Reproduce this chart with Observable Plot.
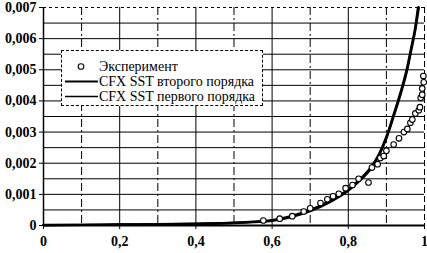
<!DOCTYPE html>
<html><head><meta charset="utf-8">
<script src="https://cdn.jsdelivr.net/npm/d3@7"></script>
<script src="https://cdn.jsdelivr.net/npm/@observablehq/plot@0.6"></script>
<style>
body{margin:0;background:#fff}
#wrap{position:relative;width:427px;height:253px}
svg{display:block}
#legend{position:absolute;left:61px;top:50px;width:202px;height:56px;background:#fff;border:1px dashed #000;font-family:"Liberation Serif","Times New Roman",serif;font-size:14px;color:#000;box-sizing:border-box}
.row{position:absolute;left:0;height:15px;line-height:15px;white-space:nowrap}
.row svg{position:absolute;left:0;top:0}
.row span{position:absolute;left:37px;top:0}
</style>
</head><body><div id="wrap"></div>
<script>
const expX = [0.577,0.620,0.653,0.683,0.700,0.727,0.745,0.760,0.775,0.793,0.811,0.827,0.853,0.862,0.877,0.884,0.893,0.900,0.919,0.933,0.946,0.955,0.963,0.968,0.976,0.985,0.988,0.990,0.994,0.994,0.998,0.997];
const expY = [0.00016,0.00022,0.00030,0.00045,0.00055,0.00072,0.00084,0.00094,0.00102,0.00120,0.00130,0.00150,0.00138,0.00186,0.00197,0.00217,0.00223,0.00240,0.00260,0.00280,0.00300,0.00310,0.00330,0.00340,0.00360,0.00370,0.00380,0.00410,0.00420,0.00440,0.00460,0.00480];

const cfx2X = [0,0.1,0.2,0.3,0.4,0.5,0.55,0.6,0.65,0.7,0.75,0.8,0.83,0.86,0.88,0.9,0.92,0.94,0.955,0.965,0.975,0.983];
const cfx2Y = [0.00002,0.00002,0.00003,0.00004,0.00006,0.00009,0.00012,0.00017,0.00030,0.00050,0.00078,0.00116,0.00148,0.00188,0.00228,0.00285,0.00360,0.00440,0.00510,0.00570,0.00630,0.00700];
const cfx1X = [0,0.1,0.2,0.3,0.4,0.5,0.55,0.6,0.65,0.7,0.75,0.8,0.83,0.86,0.88,0.9,0.92,0.94,0.955,0.965,0.975,0.985];
const cfx1Y = [0.00001,0.00002,0.00003,0.00004,0.00005,0.00008,0.00011,0.00015,0.00027,0.00046,0.00074,0.00112,0.00144,0.00184,0.00224,0.00280,0.00354,0.00433,0.00502,0.00562,0.00622,0.00700];

const xTicks = [0,0.2,0.4,0.6,0.8,1];
const yTicks = [0,0.001,0.002,0.003,0.004,0.005,0.006,0.007];
const xGrid = [0.1,0.2,0.3,0.4,0.5,0.6,0.7,0.8,0.9];
const yGrid = [0.0005,0.001,0.0015,0.002,0.0025,0.003,0.0035,0.004,0.0045,0.005,0.0055,0.006,0.0065];
const legendLabels = ["Эксперимент","CFX SST второго порядка","CFX SST первого порядка"];

const exp = expX.map((x,i)=>({x, y: expY[i]}));
const c2 = cfx2X.map((x,i)=>({x, y: cfx2Y[i]}));
const c1 = cfx1X.map((x,i)=>({x, y: cfx1Y[i]}));
const font = '"Liberation Serif","Times New Roman",serif';

const chart = Plot.plot({
  width: 427, height: 253,
  marginLeft: 43, marginRight: 3, marginTop: 7, marginBottom: 28,
  x: {domain: [0,1], label: null},
  y: {domain: [0,0.007], label: null},
  style: {fontFamily: font, fontSize: "14px", color: "#000", background: "#fff"},
  marks: [
    Plot.ruleY(yGrid, {stroke: "#000", strokeWidth: 1}),
    Plot.ruleX(xGrid.filter((d,i)=>i%2===1), {stroke: "#000", strokeWidth: 1}),
    Plot.ruleX(xGrid.filter((d,i)=>i%2===0), {stroke: "#000", strokeWidth: 1, strokeDasharray: "8,3,2,3"}),
    Plot.ruleY([0.007], {stroke: "#000", strokeWidth: 1, strokeDasharray: "3,3"}),
    Plot.ruleX([1], {stroke: "#000", strokeWidth: 1, strokeDasharray: "6,3"}),
    Plot.ruleX([0], {stroke: "#000", strokeWidth: 1.5}),
    Plot.ruleY([0], {stroke: "#000", strokeWidth: 2}),
    Plot.axisY(yTicks, {label: null, tickFormat: d => d === 0 ? "0" : d3.format(".3f")(d).replace(".", ","), tickSize: 4, tickPadding: 3, fontWeight: "bold", fontSize: 14}),
    Plot.axisX(xTicks, {label: null, tickFormat: d => d === 0 ? "0" : d === 1 ? "1" : d3.format(".1f")(d).replace(".", ","), tickSize: 4, tickPadding: 7, fontWeight: "bold", fontSize: 14}),
    Plot.line(c1, {x: "x", y: "y", stroke: "#000", strokeWidth: 2.4, curve: "monotone-x"}),
    Plot.line(c2, {x: "x", y: "y", stroke: "#000", strokeWidth: 2.4, curve: "monotone-x"}),
    Plot.dot(exp, {x: "x", y: "y", r: 2.8, stroke: "#000", strokeWidth: 1.1, fill: "#fff"})
  ]
});
const wrap = document.getElementById("wrap");
wrap.appendChild(chart);

const legend = document.createElement("div");
legend.id = "legend";
const rows = [
  {top: 9, sym: '<svg width="36" height="15"><circle cx="19" cy="7.5" r="2.8" fill="#fff" stroke="#000" stroke-width="1.1"/></svg>'},
  {top: 24, sym: '<svg width="36" height="15"><line x1="3" x2="36" y1="7.5" y2="7.5" stroke="#000" stroke-width="2"/></svg>'},
  {top: 39, sym: '<svg width="36" height="15"><line x1="3" x2="36" y1="7.5" y2="7.5" stroke="#000" stroke-width="1.6"/></svg>'}
];
rows.forEach((r,i)=>{
  const d = document.createElement("div");
  d.className = "row";
  d.style.top = (r.top - 1) + "px";
  d.innerHTML = r.sym + "<span>" + legendLabels[i] + "</span>";
  legend.appendChild(d);
});
wrap.appendChild(legend);
</script>
</body></html>
